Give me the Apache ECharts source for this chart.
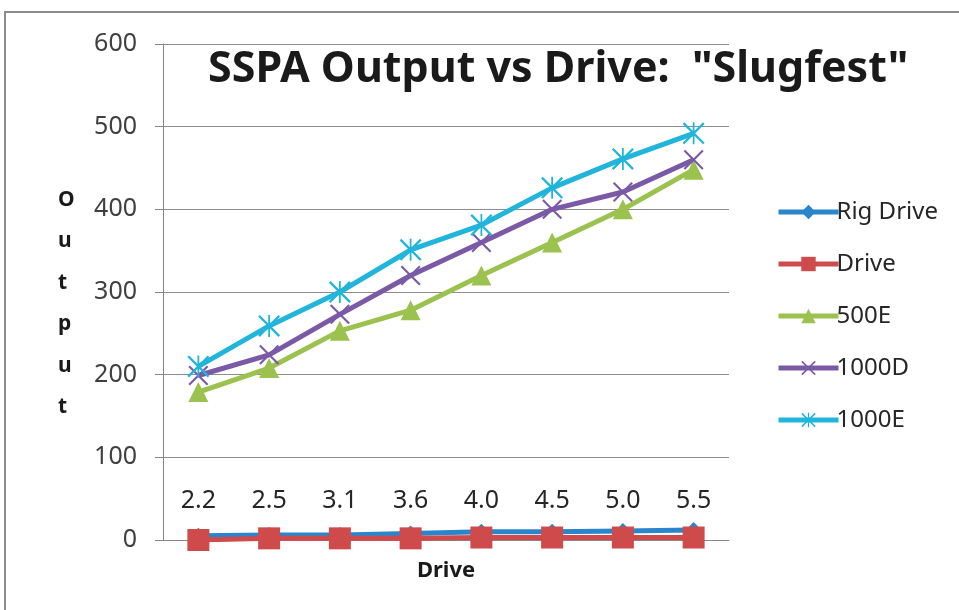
<!DOCTYPE html>
<html>
<head>
<meta charset="utf-8">
<script src="https://cdn.jsdelivr.net/npm/echarts@6/dist/echarts.min.js"></script>
<style>
  html, body { margin: 0; padding: 0; background: #fff; }
  #main { width: 959px; height: 610px; }
</style>
</head>
<body>
<div id="main"></div>
<script>
// drive levels (categories)
var drives = ['2.2', '2.5', '3.1', '3.6', '4.0', '4.5', '5.0', '5.5'];
var yTicks = [0, 100, 200, 300, 400, 500, 600];

// series values
var rigDrive = [5, 6, 6, 8, 10, 10, 11, 12];
var driveVals = [0, 2, 2, 2, 3, 3, 3, 3];
var out500E = [179, 208, 253, 278, 320, 360, 400, 448];
var out1000D = [199, 224, 273, 320, 360, 400, 421, 460];
var out1000E = [210, 259, 300, 351, 381, 426, 461, 492];

// X marker and asterisk marker as filled paths
var xMark = 'path://M0,1.5 L1.5,0 L20,18.5 L18.5,20 Z M18.5,0 L20,1.5 L1.5,20 L0,18.5 Z';
var starMark = 'path://M0,1.5 L1.5,0 L20,18.5 L18.5,20 Z M18.5,0 L20,1.5 L1.5,20 L0,18.5 Z M9.2,0 L10.8,0 L10.8,20 L9.2,20 Z';

var font = "'Noto Sans', sans-serif";
var chart = echarts.init(document.getElementById('main'));

function line(name, data, color, symbol, size) {
  return {
    name: name,
    type: 'line',
    data: data,
    symbol: symbol,
    symbolSize: size,
    showAllSymbol: true,
    lineStyle: { color: color, width: 5 },
    itemStyle: { color: color },
    emphasis: { disabled: true }
  };
}

chart.setOption({
  animation: false,
  backgroundColor: '#fff',
  textStyle: { fontFamily: font },
  title: {
    text: 'SSPA Output vs Drive:  "Slugfest"',
    left: 203,
    top: 43,
    textStyle: {
      fontFamily: font,
      fontWeight: 'bold',
      fontSize: 43,
      color: '#1a1a1a'
    }
  },
  graphic: [
    {
      type: 'rect',
      shape: { x: 5, y: 12, width: 1000, height: 1000 },
      style: { fill: 'none', stroke: '#8c8c8c', lineWidth: 2 },
      silent: true
    },
    {
      type: 'text',
      left: 58,
      top: 179,
      style: {
        text: 'O\nu\nt\np\nu\nt',
        fontFamily: font,
        fontWeight: 'bold',
        fontSize: 21,
        lineHeight: 41.5,
        align: 'center',
        fill: '#1a1a1a'
      }
    }
  ],
  legend: {
    orient: 'vertical',
    left: 771,
    top: 195,
    itemWidth: 60,
    itemHeight: 18,
    itemGap: 28,
    data: ['Rig Drive', 'Drive', '500E', '1000D', '1000E'],
    lineStyle: { width: 5 },
    textStyle: {
      fontFamily: font,
      fontSize: 24,
      color: '#262626',
      padding: [0, 0, 0, -7]
    }
  },
  grid: { left: 163, right: 230, top: 44, bottom: 70 },
  xAxis: {
    type: 'category',
    data: drives,
    name: 'Drive',
    nameLocation: 'middle',
    nameGap: 20,
    nameTextStyle: {
      fontFamily: font,
      fontWeight: 'bold',
      fontSize: 22,
      color: '#1a1a1a'
    },
    axisLine: { lineStyle: { color: '#868686', width: 1 } },
    axisTick: { show: false },
    axisLabel: {
      inside: true,
      margin: 27,
      fontFamily: font,
      fontSize: 25,
      color: '#262626'
    }
  },
  yAxis: {
    type: 'value',
    min: yTicks[0],
    max: yTicks[yTicks.length - 1],
    interval: 100,
    axisLine: { show: true, lineStyle: { color: '#868686', width: 1 } },
    axisTick: { show: true, length: 8, lineStyle: { color: '#868686' } },
    splitLine: { lineStyle: { color: '#8c8c8c', width: 1 } },
    axisLabel: {
      margin: 26,
      fontFamily: font,
      fontSize: 25,
      color: '#404040'
    }
  },
  series: [
    line('Rig Drive', rigDrive, '#2a86cc', 'diamond', 16),
    line('Drive', driveVals, '#cf4a4a', 'rect', 22),
    line('500E', out500E, '#9bc24e', 'triangle', 20),
    line('1000D', out1000D, '#7a5aa6', xMark, 20),
    line('1000E', out1000E, '#22b5dc', starMark, 22)
  ]
});
</script>
</body>
</html>
